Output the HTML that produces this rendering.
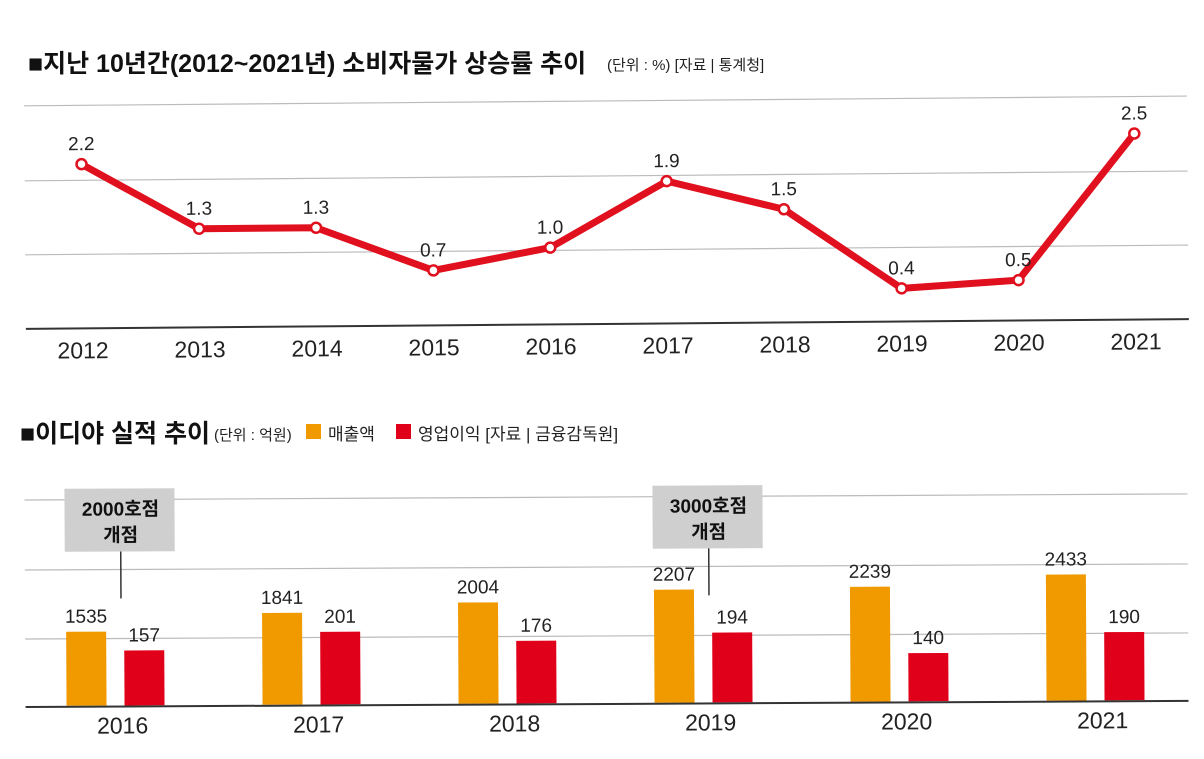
<!DOCTYPE html>
<html><head><meta charset="utf-8">
<style>
body{margin:0;background:#fff;width:1204px;height:754px;overflow:hidden;font-family:"Liberation Sans","Noto Sans CJK KR",sans-serif;}
svg text{font-family:"Liberation Sans","Noto Sans CJK KR",sans-serif;}
</style></head>
<body>
<svg id="svg" width="1204" height="754" xmlns="http://www.w3.org/2000/svg">
<g>
<text x="28" y="72" font-size="25" font-weight="bold" fill="#111">■지난 10년간(2012~2021년) 소비자물가 상승률 추이</text>
<text x="607" y="70" font-size="15" fill="#222">(단위 : %)  [자료 | 통계청]</text>
</g>
<g id="lineChart" transform="rotate(-0.48 600 220)"></g>
<g>
<text x="20" y="442" font-size="25" font-weight="bold" fill="#111">■이디야 실적 추이</text>
<text x="214" y="440" font-size="15" fill="#222">(단위 : 억원)</text>
<rect x="306" y="424" width="15" height="15" fill="#f09a00"/>
<text x="328" y="440" font-size="17" fill="#222">매출액</text>
<rect x="396" y="424" width="15" height="15" fill="#e0001a"/>
<text x="418" y="440" font-size="17" fill="#222">영업이익  [자료 | 금융감독원]</text>
</g>
<g id="barChart" transform="rotate(-0.3 600 600)"></g>
</svg>
<script>
const years = ["2012","2013","2014","2015","2016","2017","2018","2019","2020","2021"];
const cpiValues = [2.2,1.3,1.3,0.7,1.0,1.9,1.5,0.4,0.5,2.5];
const cpiLabels = ["2.2","1.3","1.3","0.7","1.0","1.9","1.5","0.4","0.5","2.5"];
const barYears = ["2016","2017","2018","2019","2020","2021"];
const revenue = [1535,1841,2004,2207,2239,2433];
const profit = [157,201,176,194,140,190];
const notes = [{idx:0,l1:"2000호점",l2:"개점"},{idx:3,l1:"3000호점",l2:"개점"}];
const NS="http://www.w3.org/2000/svg";
function mk(tag,attrs,parent){const e=document.createElementNS(NS,tag);for(const k in attrs)e.setAttribute(k,attrs[k]);parent.appendChild(e);return e;}

// line chart
const lc=document.getElementById('lineChart');
const lx=i=>82+i*117, ly=v=>320-v*72.8;
[101,176,250].forEach((y,i)=>{const g=mk('line',{x1:25,x2:1188,y1:y,y2:y,stroke:'#bbb','stroke-width':1.2},lc);

});
const ax=mk('line',{x1:25,x2:1188,y1:324,y2:324,stroke:'#333','stroke-width':2},lc);


const pts=cpiValues.map((v,i)=>lx(i)+','+ly(v)).join(' ');
const pl=mk('polyline',{points:pts,fill:'none',stroke:'#e0101e','stroke-width':7,'stroke-linejoin':'round'},lc);


cpiValues.forEach((v,i)=>{
 const c=mk('circle',{cx:lx(i),cy:ly(v),r:5,fill:'#fff',stroke:'#e0101e','stroke-width':2.5},lc);
 
 
 const t=mk('text',{x:lx(i),y:ly(v)-14,'text-anchor':'middle','font-size':19,fill:'#222'},lc);t.textContent=cpiLabels[i];
 
 
 const xl=mk('text',{x:lx(i),y:354,'text-anchor':'middle','font-size':23,fill:'#222'},lc);xl.textContent=years[i];
 
 
});

// bar chart
const bc=document.getElementById('barChart');
const bx=i=>66+i*196, base=703;
const rh=v=>74+(v-1535)*0.058, ph=v=>55+(v-157)*0.4;
[497,567,636].forEach(y=>{const g=mk('line',{x1:25,x2:1188,y1:y,y2:y,stroke:'#bbb','stroke-width':1.2},bc);

});
notes.forEach(n=>{
 const cx=bx(n.idx)+55;
 const ln=mk('line',{x1:cx,x2:cx,y1:548,y2:596,stroke:'#333','stroke-width':1.5},bc);
 
 
 const r=mk('rect',{x:cx-56,y:486,width:110,height:63,fill:'#cfcfcf'},bc);
 
 
 const t1=mk('text',{x:cx,y:513,'text-anchor':'middle','font-size':19,'font-weight':'bold',fill:'#111'},bc);t1.textContent=n.l1;
 
 
 const t2=mk('text',{x:cx,y:539,'text-anchor':'middle','font-size':19,'font-weight':'bold',fill:'#111'},bc);t2.textContent=n.l2;
 
 
});
barYears.forEach((y,i)=>{
 const x=bx(i);
 const h1=rh(revenue[i]);
 const b1=mk('rect',{x:x,y:base-h1,width:40,height:h1,fill:'#f09a00'},bc);
 
 
 const t1=mk('text',{x:x+20,y:base-h1-9,'text-anchor':'middle','font-size':19,fill:'#222'},bc);t1.textContent=revenue[i];
 
 
 const h2=ph(profit[i]);
 const b2=mk('rect',{x:x+58,y:base-h2,width:40,height:h2,fill:'#e0001a'},bc);
 
 
 const t2=mk('text',{x:x+78,y:base-h2-9,'text-anchor':'middle','font-size':19,fill:'#222'},bc);t2.textContent=profit[i];
 
 
 const xl=mk('text',{x:x+56,y:731,'text-anchor':'middle','font-size':23,fill:'#222'},bc);xl.textContent=y;
 
 
});
const bax=mk('line',{x1:25,x2:1188,y1:704,y2:704,stroke:'#333','stroke-width':2},bc);


</script>
</body></html>
